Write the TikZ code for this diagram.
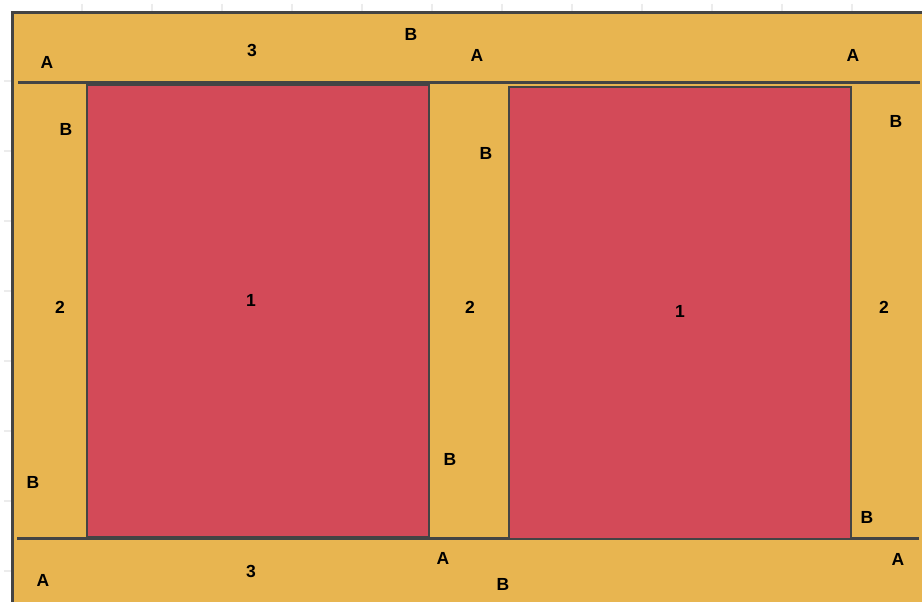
\documentclass[tikz,border=0pt]{standalone}
\usepackage{fontspec}
\setmainfont{Liberation Sans}
\definecolor{wood}{HTML}{E8B550}
\definecolor{panel}{HTML}{D34A58}
\definecolor{edge}{HTML}{444444}
\tikzset{
  lbl/.style={font=\fontsize{17.5}{17.5}\selectfont\bfseries, text=black, inner sep=0pt},
  tick/.style={draw=gray!15, line width=1.2pt},
  panelbox/.style={fill=panel, draw=edge, line width=1.8pt},
  sep/.style={draw=edge, line width=2.4pt}
}
\begin{document}
\begin{tikzpicture}[x=1pt,y=-1pt]
\useasboundingbox (0,0) rectangle (922,602);
\fill[white] (0,0) rectangle (922,602);
% faint grid ticks
\foreach \i in {82,152,...,852} \draw[tick] (\i,4) -- (\i,12);
\foreach \j in {81,151,...,571} \draw[tick] (4,\j) -- (12,\j);
% board
\fill[wood] (12,12) rectangle (922,602);
\draw[edge, line width=2.6pt] (12.5,602) -- (12.5,12.5) -- (922,12.5);
% separators
\draw[sep] (18,82.5) -- (920,82.5);
\draw[sep] (17,538.5) -- (919,538.5);
% panels
\node[panelbox, minimum width=342pt, minimum height=452pt, inner sep=0pt, anchor=north west] (p1) at (86,84) {};
\node[panelbox, minimum width=342pt, minimum height=452pt, inner sep=0pt, anchor=north west] (p2) at (508,86) {};
% labels
\node[lbl] (a1) at (47,62) {A};
\node[lbl] (t1) at (252,50) {3};
\node[lbl] (b1) at (411,34) {B};
\node[lbl] (a2) at (477,55) {A};
\node[lbl] (a3) at (853,55) {A};
\node[lbl] (b2) at (66,129) {B};
\node[lbl] (b3) at (486,153) {B};
\node[lbl] (b4) at (896,121) {B};
\node[lbl] (s1) at (60,307) {2};
\node[lbl] (o1) at (251,300) {1};
\node[lbl] (s2) at (470,307) {2};
\node[lbl] (o2) at (680,311) {1};
\node[lbl] (s3) at (884,307) {2};
\node[lbl] (b5) at (33,482) {B};
\node[lbl] (b6) at (450,459) {B};
\node[lbl] (b7) at (867,517) {B};
\node[lbl] (a4) at (443,558) {A};
\node[lbl] (a5) at (898,559) {A};
\node[lbl] (a6) at (43,580) {A};
\node[lbl] (t2) at (251,571) {3};
\node[lbl] (b8) at (503,584) {B};
\end{tikzpicture}
\end{document}
